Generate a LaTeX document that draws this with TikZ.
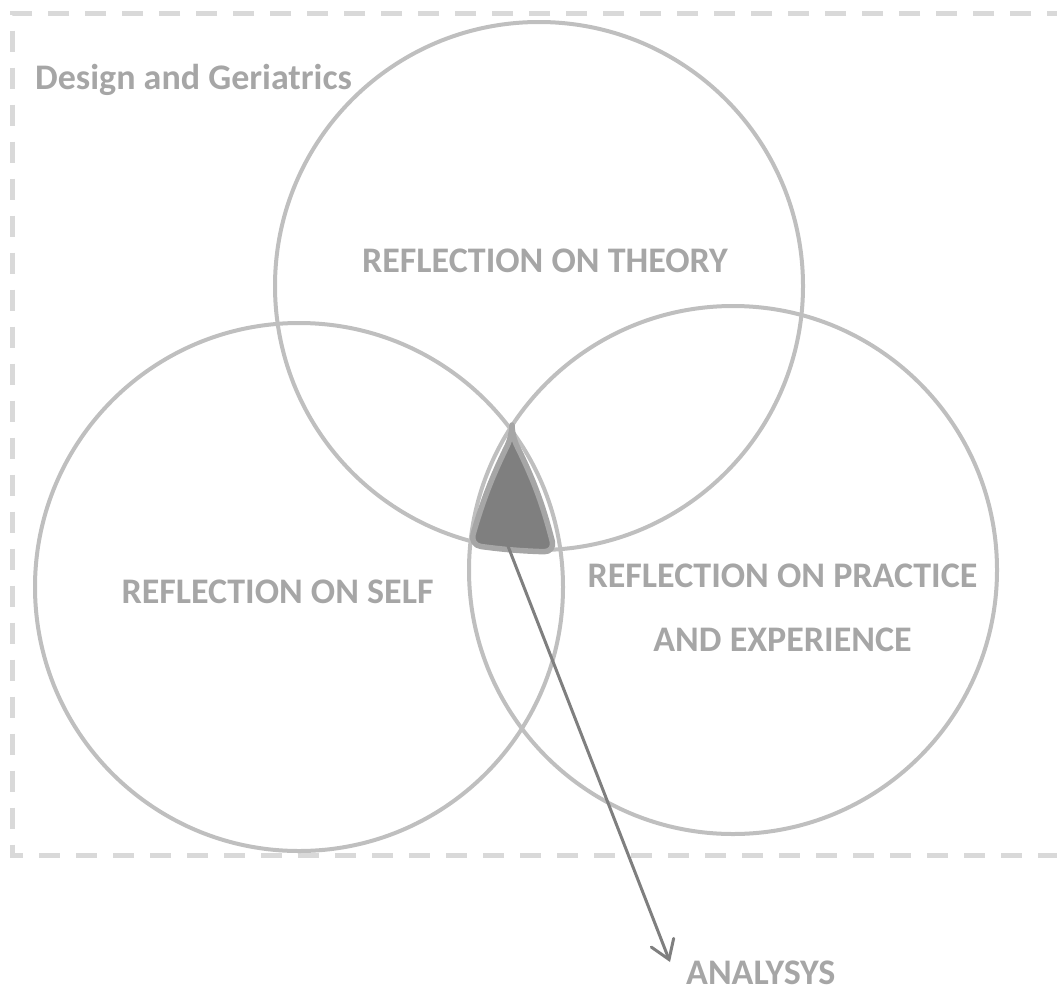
\documentclass[tikz,border=0pt]{standalone}
\usepackage{fontspec}
\setmainfont{Carlito}
\usetikzlibrary{arrows.meta}

\definecolor{ringgray}{HTML}{BFBFBF}
\definecolor{textgray}{HTML}{A6A6A6}
\definecolor{coregray}{HTML}{7F7F7F}
\definecolor{framegray}{HTML}{D9D9D9}

\begin{document}
\begin{tikzpicture}[x=1pt, y=-1pt,
    ring/.style={draw=ringgray, line width=4pt, circle, minimum size=528pt, inner sep=0pt},
    ringtext/.style={text=textgray, font=\fontsize{36}{64}\selectfont\bfseries, inner sep=0pt, anchor=base},
    pointer/.style={draw=coregray, line width=3pt, line cap=round, -{Straight Barb[length=18pt, width=24pt, line cap=round]}}]
        \useasboundingbox (0,0) rectangle (1057,993);
        % frame, open on the right
        \draw[framegray, line width=5pt, dash pattern=on 21pt off 16pt, dash phase=8pt]
          (1060,13) -- (12.5,13) -- (12.5,855) -- (1060,855);
        \node[ringtext, anchor=base west] (frame) at (35,89) {Design and Geriatrics};
        % the three circles
        \node[ring] (theory) at (539,286) {};
        \node[ring] (self) at (299,587) {};
        \node[ring] (practice) at (733,570) {};
        \node[ringtext] (theorytext) at (545,272) {REFLECTION ON THEORY};
        \node[ringtext] (selftext) at (277.5,603) {REFLECTION ON SELF};
        \node[ringtext] (practicetext) at (782.5,587) {REFLECTION ON PRACTICE};
        \node[ringtext] (experiencetext) at (782.5,651) {AND EXPERIENCE};
        % overlap of all three
        \draw[draw=textgray, fill=coregray, line width=5.5pt, line join=round, rounded corners=11pt]
          (512,436) to[bend right=5] (470,545) to[bend right=3] (555,552) to[bend right=6] cycle;
        \coordinate (core) at (506,541);
        \coordinate (tip) at (670,962);
        \node[ringtext, anchor=base west] (analysis) at (686,984) {ANALYSYS};
        \draw[pointer] (core) -- (tip);
\end{tikzpicture}
\end{document}
